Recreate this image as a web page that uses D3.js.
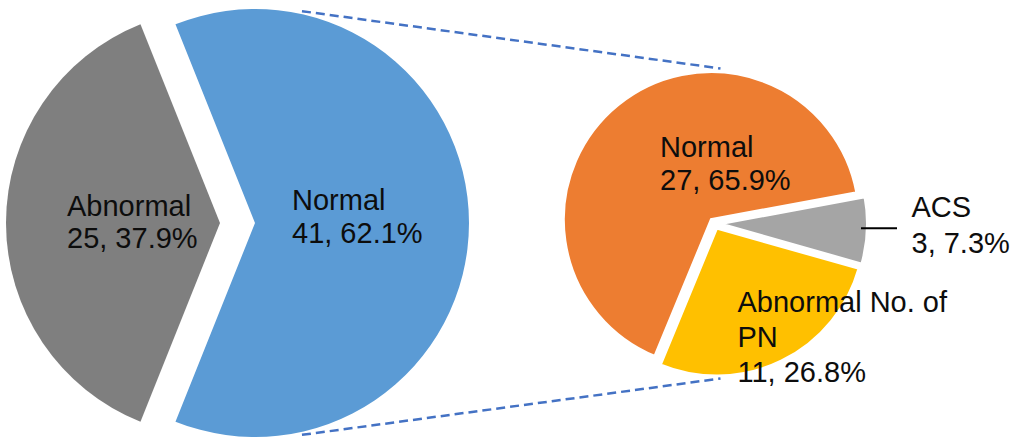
<!DOCTYPE html>
<html>
<head>
<meta charset="utf-8">
<script src="https://cdn.jsdelivr.net/npm/d3@7"></script>
<style>
  html, body { margin: 0; padding: 0; background: #ffffff; }
  svg { display: block; }
  text { font-family: "Liberation Sans", Arial, sans-serif; font-size: 29px; fill: #0d0d0d; }
</style>
</head>
<body>
<svg id="chart" width="1018" height="437"></svg>
<script>
// Primary pie: all cases
const mainCategories = ["Normal", "Abnormal"];
const mainValues = [41, 25];

// Secondary pie: breakdown of the "Normal" slice
const subCategories = ["ACS", "Abnormal No. of PN", "Normal"];
const subValues = [3, 11, 27];
const subLabelLines = [["ACS"], ["Abnormal No. of", "PN"], ["Normal"]];

const svg = d3.select("#chart");
const pctFmt = d3.format(".1%");

// ---- layout ----
const main = { cx: 220, cy: 223, r: 214, explode: [35, 0] };
const sub = { cx: 714.5, cy: 223.5, r: 148, explode: 5, startDeg: 79.5 };

const mainColor = d3.scaleOrdinal().domain(mainCategories).range(["#5B9BD5", "#7F7F7F"]);
const subColor = d3.scaleOrdinal().domain(subCategories).range(["#A5A5A5", "#FFC000", "#ED7D31"]);

function dir(a) { return [Math.sin(a), -Math.cos(a)]; }

// ---- primary pie ----
const mainTotal = d3.sum(mainValues);
const mainStart = Math.PI / 2 - Math.PI * (mainValues[0] / mainTotal);
const mainPie = d3.pie().sort(null).value(d => d)
  .startAngle(mainStart).endAngle(mainStart + 2 * Math.PI);
const mainArcs = mainPie(mainValues);
const mainArc = d3.arc().innerRadius(0).outerRadius(main.r);

const mainG = svg.append("g");
mainArcs.forEach((d, i) => {
  const mid = (d.startAngle + d.endAngle) / 2;
  const off = main.explode[i];
  const [ux, uy] = dir(mid);
  d.ox = main.cx + ux * off;
  d.oy = main.cy + uy * off;
});
mainG.selectAll("path").data(mainArcs).join("path")
  .attr("transform", d => `translate(${d.ox},${d.oy})`)
  .attr("d", mainArc)
  .attr("fill", (d, i) => mainColor(mainCategories[i]));

// ---- secondary pie ----
const subTotal = d3.sum(subValues);
const subStart = sub.startDeg * Math.PI / 180;
const subPie = d3.pie().sort(null).value(d => d)
  .startAngle(subStart).endAngle(subStart + 2 * Math.PI);
const subArcs = subPie(subValues);
const subArc = d3.arc().innerRadius(0).outerRadius(sub.r);

svg.append("g").selectAll("path").data(subArcs).join("path")
  .attr("transform", d => {
    const [ux, uy] = dir((d.startAngle + d.endAngle) / 2);
    return `translate(${sub.cx + ux * sub.explode},${sub.cy + uy * sub.explode})`;
  })
  .attr("d", subArc)
  .attr("fill", (d, i) => subColor(subCategories[i]))
  .attr("stroke", "#ffffff")
  .attr("stroke-width", 3)
  .attr("stroke-linejoin", "miter");

// ---- series lines joining the two pies ----
const blue = mainArcs[0];
const lineR = 217;
const lineA = 12.5 * Math.PI / 180;
[[lineA, -1], [Math.PI - lineA, 1]].forEach(([a, s]) => {
  const [ux, uy] = dir(a);
  svg.append("line")
    .attr("x1", blue.ox + ux * lineR)
    .attr("y1", blue.oy + uy * lineR)
    .attr("x2", sub.cx + 6)
    .attr("y2", sub.cy + s * (sub.r + 7))
    .attr("stroke", "#4472C4")
    .attr("stroke-width", 2.5)
    .attr("stroke-dasharray", "9,5");
});

// ---- data labels ----
function drawLabel(x, baselines, lines) {
  const t = svg.append("text").attr("x", x);
  lines.forEach((ln, k) => {
    t.append("tspan").attr("x", x).attr("y", baselines[k]).text(ln);
  });
}

const mainLabelPos = [
  { x: 292, y: [210, 243.3] },
  { x: 67, y: [215.7, 248.3] }
];
mainCategories.forEach((c, i) => {
  const v = mainValues[i];
  drawLabel(mainLabelPos[i].x, mainLabelPos[i].y,
    [c, `${v}, ${pctFmt(v / mainTotal)}`]);
});

const subLabelPos = [
  { x: 911.5, y: [216.7, 252.5] },
  { x: 737.5, y: [311.7, 346.7, 382] },
  { x: 660, y: [156.7, 190] }
];
subCategories.forEach((c, i) => {
  const v = subValues[i];
  drawLabel(subLabelPos[i].x, subLabelPos[i].y,
    [...subLabelLines[i], `${v}, ${pctFmt(v / subTotal)}`]);
});

// leader line for the small ACS slice
svg.append("line")
  .attr("x1", 861).attr("y1", 228.3)
  .attr("x2", 897).attr("y2", 228.3)
  .attr("stroke", "#000000")
  .attr("stroke-width", 2);
</script>
</body>
</html>
